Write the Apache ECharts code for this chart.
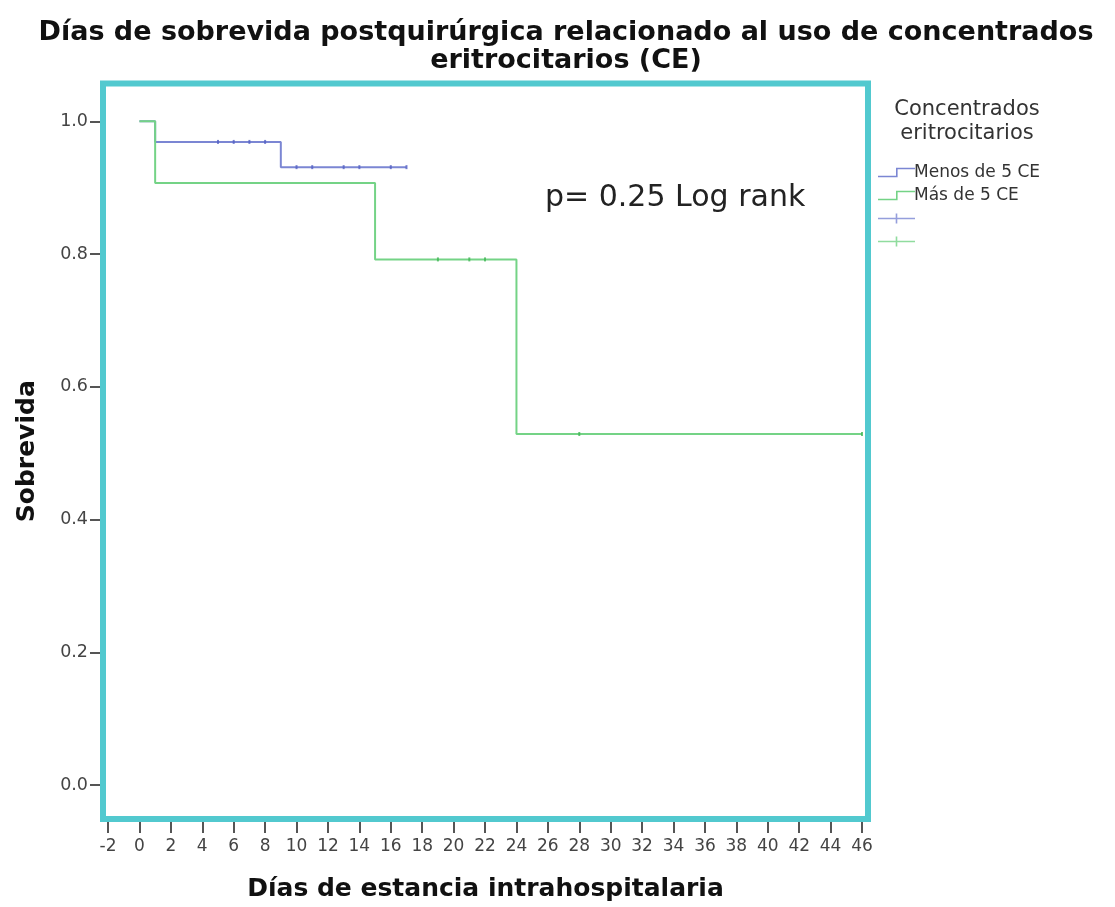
<!DOCTYPE html>
<html>
<head>
<meta charset="utf-8">
<script src="https://cdn.jsdelivr.net/npm/echarts@6/dist/echarts.min.js"></script>
<style>
html,body{margin:0;padding:0;background:#fff;}
#chart{width:1115px;height:907px;}
</style>
</head>
<body>
<div id="chart"></div>
<script>
// ---- data ----
var groupNames = ['Menos de 5 CE', 'Más de 5 CE'];
var blueTimes = [0, 1, 9, 17];
var blueSurv = [1.0, 0.969, 0.931, 0.931];
var greenTimes = [0, 1, 15, 24, 46];
var greenSurv = [1.0, 0.907, 0.792, 0.529, 0.529];
var blueCensorTimes = [5, 6, 7, 8, 10, 11, 13, 14, 16, 17];
var greenCensorTimes = [19, 21, 22, 28, 46];
var xTicks = [-2, 0, 2, 4, 6, 8, 10, 12, 14, 16, 18, 20, 22, 24, 26, 28, 30, 32, 34, 36, 38, 40, 42, 44, 46];
var yTicks = [0, 0.2, 0.4, 0.6, 0.8, 1.0];
var titleText = 'Días de sobrevida postquirúrgica relacionado al uso de concentrados\neritrocitarios (CE)';
var legendTitle = 'Concentrados\neritrocitarios';
var annotation = 'p= 0.25 Log rank';
var xName = 'Días de estancia intrahospitalaria';
var yName = 'Sobrevida';

function zip(a, b) { return a.map(function (v, i) { return [v, b[i]]; }); }
function stepValue(times, surv, t) {
  var v = surv[0];
  for (var i = 0; i < times.length; i++) { if (times[i] <= t) v = surv[i]; }
  return v;
}
function censorPts(ct, times, surv) { return ct.map(function (t) { return [t, stepValue(times, surv, t)]; }); }

var blue = '#7b86d3', green = '#74d386';
var stepIcon = 'path://M0,8 L18,8 L18,0 L37,0 L37,1.6 L19.6,1.6 L19.6,9.6 L0,9.6 Z';
var crossIcon = 'path://M0,4.2 L37,4.2 L37,5.8 L0,5.8 Z M17.7,0 L19.3,0 L19.3,10 L17.7,10 Z';
var font = 'DejaVu Sans';

var chart = echarts.init(document.getElementById('chart'), null, { renderer: 'canvas' });
chart.setOption({
  animation: false,
  backgroundColor: '#fff',
  textStyle: { fontFamily: font },
  title: [
    { text: titleText, left: 561, top: 14, textAlign: 'center',
      textStyle: { fontFamily: font, fontSize: 27, fontWeight: 'bold', color: '#111', lineHeight: 28 } },
    { text: legendTitle, left: 962, top: 93, textAlign: 'center',
      textStyle: { fontFamily: font, fontSize: 21, fontWeight: 'normal', color: '#333', lineHeight: 24 } }
  ],
  grid: { left: 103, top: 83.5, right: 247, bottom: 88, show: true,
          borderColor: '#52c9cf', borderWidth: 6, backgroundColor: 'transparent' },
  legend: {
    orient: 'vertical', left: 873, top: 159, itemWidth: 37, itemHeight: 10, itemGap: 6,
    textStyle: { fontFamily: font, fontSize: 17, color: '#333', padding: [0, 0, 0, -6] },
    formatter: function (n) { return groupNames.indexOf(n) >= 0 ? n : ' '; },
    data: [
      { name: groupNames[0], icon: stepIcon, itemStyle: { color: blue } },
      { name: groupNames[1], icon: stepIcon, itemStyle: { color: green } },
      { name: 'c1', icon: crossIcon, itemStyle: { color: blue } },
      { name: 'c2', icon: crossIcon, itemStyle: { color: green } }
    ],
    selectedMode: false
  },
  xAxis: {
    type: 'value', min: -2.32, max: 46.38, offset: 3,
    axisLine: { show: false, onZero: false },
    axisTick: { show: true, length: 11, customValues: xTicks, lineStyle: { color: '#555', width: 2 } },
    axisLabel: { customValues: xTicks, margin: 16, fontSize: 17, color: '#444', fontFamily: font },
    splitLine: { show: false },
    name: xName, nameLocation: 'middle', nameGap: 55,
    nameTextStyle: { fontFamily: font, fontSize: 25, fontWeight: 'bold', color: '#111' }
  },
  yAxis: {
    type: 'value', min: -0.051, max: 1.057, offset: 3,
    axisLine: { show: false, onZero: false },
    axisTick: { show: true, length: 10, customValues: yTicks, lineStyle: { color: '#555', width: 2 } },
    axisLabel: { customValues: yTicks, margin: 12, fontSize: 17.5, color: '#444', fontFamily: font,
                 formatter: function (v) { return v.toFixed(1); } },
    splitLine: { show: false },
    name: yName, nameLocation: 'middle', nameGap: 60, nameRotate: 90,
    nameTextStyle: { fontFamily: font, fontSize: 25, fontWeight: 'bold', color: '#111' }
  },
  graphic: [
    { type: 'text', left: 545, top: 183,
      style: { text: annotation, font: 'normal 30px "DejaVu Sans"', fill: '#222' } }
  ],
  series: [
    { name: groupNames[0], type: 'line', step: 'end', data: zip(blueTimes, blueSurv),
      showSymbol: false, lineStyle: { color: blue, width: 2 }, itemStyle: { color: blue }, z: 2 },
    { name: 'c1', type: 'scatter', data: censorPts(blueCensorTimes, blueTimes, blueSurv),
      symbol: 'rect', symbolSize: [2, 4], itemStyle: { color: '#5460c4' }, z: 3 },
    { name: groupNames[1], type: 'line', step: 'end', data: zip(greenTimes, greenSurv),
      showSymbol: false, lineStyle: { color: green, width: 2 }, itemStyle: { color: green }, z: 4 },
    { name: 'c2', type: 'scatter', data: censorPts(greenCensorTimes, greenTimes, greenSurv),
      symbol: 'rect', symbolSize: [2, 4], itemStyle: { color: '#3fb552' }, z: 5 }
  ]
});
</script>
</body>
</html>
